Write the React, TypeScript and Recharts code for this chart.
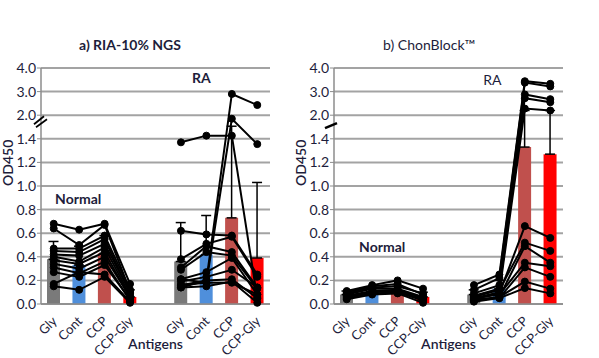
import React from "react";
import {
  ComposedChart,
  Bar,
  Cell,
  Line,
  XAxis,
  YAxis,
  CartesianGrid,
  ErrorBar,
  ReferenceDot,
} from "recharts";

const SLOTS = ["n-Gly", "n-Cont", "n-CCP", "n-CCP-Gly", "gap", "r-Gly", "r-Cont", "r-CCP", "r-CCP-Gly"];
const ANTIGENS = ["Gly", "Cont", "CCP", "CCP-Gly"];
const BAR_COLORS = ["#7a7a7a", "#4f8fdb", "#c0504d", "#ff0000"];
const Y_TICK_LABELS = ["0.0", "0.2", "0.4", "0.6", "0.8", "1.0", "1.2", "1.4", "2.0", "3.0", "4.0"];

// a) RIA-10% NGS
const aNormalBars = [0.38, 0.33, 0.43, 0.06];
const aNormalTops = [0.53, 0.49, 0.58, 0.12];
const aRaBars = [0.36, 0.42, 0.73, 0.39];
const aRaTops = [0.69, 0.75, 1.72, 1.03];
const aNormalSubjects = [
  [0.68, 0.63, 0.68, 0.17],
  [0.64, 0.5, 0.67, 0.11],
  [0.47, 0.47, 0.58, 0.12],
  [0.45, 0.44, 0.55, 0.09],
  [0.42, 0.41, 0.51, 0.1],
  [0.4, 0.36, 0.48, 0.07],
  [0.37, 0.34, 0.44, 0.05],
  [0.34, 0.3, 0.4, 0.06],
  [0.31, 0.26, 0.36, 0.03],
  [0.27, 0.23, 0.33, 0.04],
  [0.17, 0.27, 0.25, 0.02],
  [0.15, 0.12, 0.23, 0.01],
];
const aRaSubjects = [
  [0.14, 0.2, 2.9, 2.43],
  [0.16, 0.18, 1.91, 1.355],
  [1.37, 1.48, 1.48, 0.05],
  [0.62, 0.59, 0.58, 0.25],
  [0.38, 0.51, 0.57, 0.23],
  [0.31, 0.49, 0.44, 0.14],
  [0.29, 0.44, 0.41, 0.13],
  [0.21, 0.27, 0.39, 0.08],
  [0.19, 0.23, 0.29, 0.14],
  [0.16, 0.2, 0.21, 0.05],
  [0.14, 0.15, 0.19, 0.01],
  [0.21, 0.18, 0.18, 0.08],
];

// b) ChonBlock
const bNormalBars = [0.08, 0.09, 0.1, 0.06];
const bNormalTops = [0.11, 0.13, 0.15, 0.1];
const bRaBars = [0.08, 0.13, 1.33, 1.27];
const bRaTops = [0.12, 0.2, 2.2, 2.2];
const bNormalSubjects = [
  [0.11, 0.16, 0.2, 0.13],
  [0.1, 0.15, 0.17, 0.08],
  [0.09, 0.14, 0.15, 0.09],
  [0.08, 0.13, 0.13, 0.06],
  [0.07, 0.11, 0.12, 0.05],
  [0.06, 0.1, 0.11, 0.04],
  [0.05, 0.09, 0.1, 0.03],
  [0.04, 0.08, 0.09, 0.01],
];
const bRaSubjects = [
  [0.16, 0.25, 3.44, 3.33],
  [0.12, 0.22, 3.38, 3.22],
  [0.09, 0.16, 2.88, 2.68],
  [0.07, 0.13, 2.72, 2.55],
  [0.05, 0.1, 2.28, 2.2],
  [0.04, 0.09, 0.66, 0.56],
  [0.06, 0.12, 0.52, 0.45],
  [0.03, 0.06, 0.49, 0.35],
  [0.05, 0.08, 0.35, 0.32],
  [0.04, 0.05, 0.31, 0.23],
  [0.03, 0.06, 0.19, 0.13],
  [0.02, 0.05, 0.135, 0.09],
];

const INK = "#1d1d3b";
const FONT = "Lato, 'Open Sans', sans-serif";

// broken axis: 0-1.4 linear, 1.4-2.0 squeezed, then 1 unit per step
function brk(v: number) {
  if (v <= 1.4) return v / 0.2;
  if (v <= 2) return 7 + (v - 1.4) / 0.6;
  return 8 + (v - 2);
}

function buildRows(nBars, nTops, rBars, rTops, nSubj, rSubj) {
  return SLOTS.map((slot, i) => {
    const row: any = { slot };
    if (slot === "gap") return row;
    const isN = i < 4;
    const j = isN ? i : i - 5;
    const mean = isN ? nBars[j] : rBars[j];
    const top = isN ? nTops[j] : rTops[j];
    row.bar = brk(mean);
    row.err = [0, brk(top) - brk(mean)];
    row.color = BAR_COLORS[j];
    nSubj.forEach((s, k) => (row["n" + k] = isN ? brk(s[j]) : null));
    rSubj.forEach((s, k) => (row["r" + k] = isN ? null : brk(s[j])));
    return row;
  });
}

function XTick({ x, y, payload }: any) {
  const v: string = payload.value;
  if (v === "gap") return null;
  const label = v.slice(2);
  return (
    <text
      x={0}
      y={0}
      textAnchor="end"
      fill={INK}
      fontSize={13}
      fontFamily={FONT}
      transform={`translate(${x + 4},${y + 10}) rotate(-45)`}
    >
      {label}
    </text>
  );
}

function makeYTick(breakKind: "double" | "single") {
  return function YTick({ x, y, payload }: any) {
    const ax = x + 5;
    return (
      <g>
        <text x={x} y={y} dy={5} textAnchor="end" fill={INK} fontSize={14} fontFamily={FONT}>
          {Y_TICK_LABELS[payload.value]}
        </text>
        {payload.value === 8 && breakKind === "double" && (
          <g stroke="#000" strokeWidth={1.8}>
            <line x1={ax - 7} y1={y + 9} x2={ax + 3} y2={y + 1} />
            <line x1={ax - 5} y1={y + 12} x2={ax + 6} y2={y + 4} />
          </g>
        )}
        {payload.value === 8 && breakKind === "single" && (
          <line x1={ax - 9} y1={y + 13} x2={ax + 3} y2={y + 8} stroke="#000" strokeWidth={2.5} />
        )}
      </g>
    );
  };
}

function TextMark({ cx, cy, text, dx, bold }: any) {
  return (
    <text
      x={cx + dx}
      y={cy}
      dy={5}
      textAnchor="middle"
      fill={INK}
      fontSize={14}
      fontWeight={bold ? 700 : 400}
      fontFamily={FONT}
    >
      {text}
    </text>
  );
}

function Panel({ rows, nCount, rCount, breakKind, normalMark, raMark }: any) {
  const nKeys = Array.from({ length: nCount }, (_, k) => "n" + k);
  const rKeys = Array.from({ length: rCount }, (_, k) => "r" + k);
  return (
    <ComposedChart
      width={300}
      height={358}
      data={rows}
      margin={{ top: 68, right: 30, bottom: 4, left: 6 }}
      barSize={13}
    >
      <CartesianGrid vertical={false} stroke="#a3a3a3" strokeWidth={2} />
      <XAxis
        dataKey="slot"
        interval={0}
        tick={<XTick />}
        tickLine={false}
        axisLine={{ stroke: "#8c8c8c", strokeWidth: 1.5 }}
        height={50}
        label={{ value: "Antigens", position: "insideBottom", offset: 5, fill: INK, fontSize: 14, fontWeight: 600, fontFamily: FONT }}
      />
      <YAxis
        type="number"
        domain={[0, 10]}
        ticks={[0, 1, 2, 3, 4, 5, 6, 7, 8, 9, 10]}
        interval={0}
        width={35}
        tick={makeYTick(breakKind)}
        tickSize={4}
        tickMargin={1}
        tickLine={{ stroke: "#8c8c8c" }}
        axisLine={{ stroke: "#8c8c8c", strokeWidth: 1.5 }}
        label={{ value: "OD450", angle: -90, position: "insideLeft", offset: 2, fill: INK, fontSize: 14, fontWeight: 600, fontFamily: FONT }}
      />
      <Bar dataKey="bar" isAnimationActive={false}>
        {rows.map((r, i) => (
          <Cell key={i} fill={r.color} />
        ))}
        <ErrorBar dataKey="err" width={5} stroke="#000" strokeWidth={1.5} direction="y" />
      </Bar>
      {[...nKeys, ...rKeys].map((k) => (
        <Line
          key={k}
          dataKey={k}
          stroke="#000"
          strokeWidth={2}
          dot={{ r: 3.5, fill: "#000", stroke: "#000", strokeWidth: 1 }}
          activeDot={false}
          connectNulls={false}
          isAnimationActive={false}
        />
      ))}
      <ReferenceDot
        x={normalMark.slot}
        y={brk(normalMark.y)}
        r={0}
        shape={(p) => <TextMark cx={p.cx} cy={p.cy} dx={normalMark.dx} text="Normal" bold />}
      />
      <ReferenceDot
        x={raMark.slot}
        y={brk(raMark.y)}
        r={0}
        shape={(p) => <TextMark cx={p.cx} cy={p.cy} dx={raMark.dx} text="RA" bold={raMark.bold} />}
      />
    </ComposedChart>
  );
}

export default function App() {
  const rowsA = buildRows(aNormalBars, aNormalTops, aRaBars, aRaTops, aNormalSubjects, aRaSubjects);
  const rowsB = buildRows(bNormalBars, bNormalTops, bRaBars, bRaTops, bNormalSubjects, bRaSubjects);
  return (
    <div style={{ position: "absolute", left: 0, top: 0, width: 599, height: 358, background: "#fff", fontFamily: FONT }}>
      <div style={{ position: "absolute", left: 60, top: 36, width: 140, textAlign: "center", fontSize: 14, fontWeight: 700, color: INK }}>
        a) RIA-10% NGS
      </div>
      <div style={{ position: "absolute", left: 359, top: 36, width: 140, textAlign: "center", fontSize: 14, fontWeight: 400, color: INK }}>
        b) ChonBlock™
      </div>
      <div style={{ position: "absolute", left: 0, top: 0 }}>
        <Panel
          rows={rowsA}
          nCount={aNormalSubjects.length}
          rCount={aRaSubjects.length}
          breakKind="double"
          normalMark={{ slot: "n-Cont", y: 0.89, dx: -1 }}
          raMark={{ slot: "r-Cont", y: 3.58, dx: -5, bold: true }}
        />
      </div>
      <div style={{ position: "absolute", left: 293, top: 0 }}>
        <Panel
          rows={rowsB}
          nCount={bNormalSubjects.length}
          rCount={bRaSubjects.length}
          breakKind="single"
          normalMark={{ slot: "n-Cont", y: 0.48, dx: 10 }}
          raMark={{ slot: "r-Cont", y: 3.5, dx: -7, bold: false }}
        />
      </div>
    </div>
  );
}
